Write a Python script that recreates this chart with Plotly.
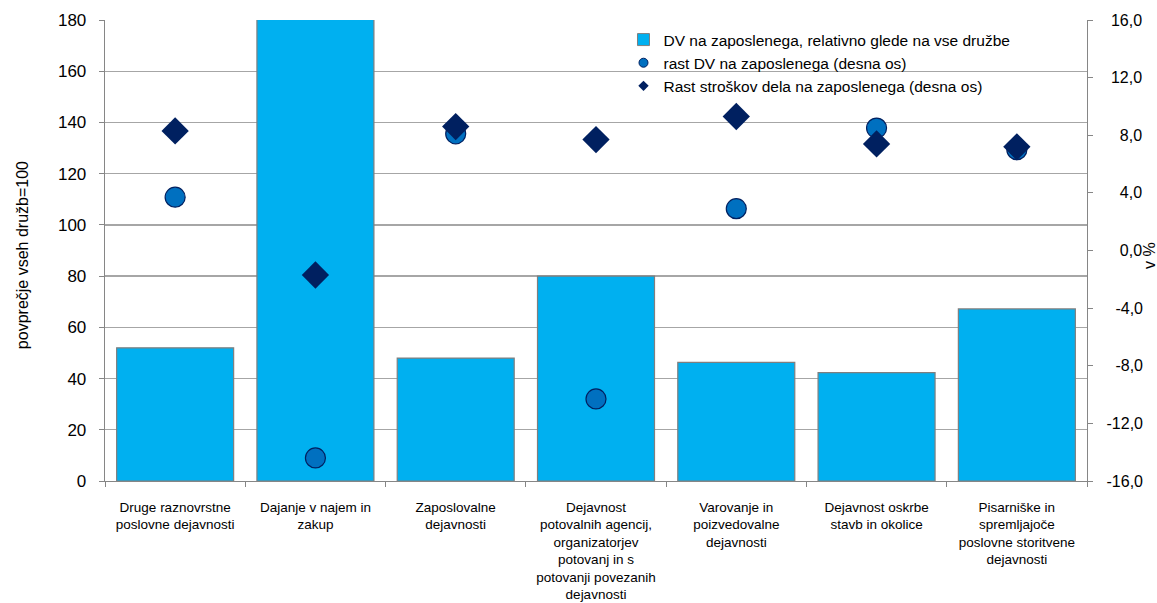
import plotly.graph_objects as go

categories = [
    "Druge raznovrstne<br>poslovne dejavnosti",
    "Dajanje v najem in<br>zakup",
    "Zaposlovalne<br>dejavnosti",
    "Dejavnost<br>potovalnih agencij,<br>organizatorjev<br>potovanj in s<br>potovanji povezanih<br>dejavnosti",
    "Varovanje in<br>poizvedovalne<br>dejavnosti",
    "Dejavnost oskrbe<br>stavb in okolice",
    "Pisarniške in<br>spremljajoče<br>poslovne storitvene<br>dejavnosti",
]
dv_relative = [52, 185, 48, 80, 46.3, 42.3, 67.2]
dv_growth = [3.7, -14.4, 8.1, -10.3, 2.9, 8.5, 7.0]
labor_cost_growth = [8.3, -1.7, 8.6, 7.7, 9.3, 7.4, 7.2]

left_ticks = list(range(0, 181, 20))
right_ticks = list(range(-16, 17, 4))


def right_label(v):
    s = f"{abs(v):.1f}".replace(".", ",")
    s = ("-" + s) if v < 0 else ("\u00a0" + s)
    if abs(v) < 10:
        s = "\u2007" + s
    return s


right_ticktext = [right_label(v) for v in right_ticks]

FONT = "Liberation Sans, Arial, sans-serif"
GRID = "#A6A6A6"
AX = "#868686"

fig = go.Figure()
fig.add_trace(go.Bar(
    x=categories, y=dv_relative, name="DV na zaposlenega, relativno glede na vse družbe",
    marker=dict(color="#00B0F0", line=dict(color="#7F7F7F", width=1.2)),
    showlegend=False, yaxis="y",
))
fig.add_trace(go.Scatter(
    x=categories, y=dv_growth, mode="markers", yaxis="y2", showlegend=False,
    marker=dict(symbol="circle", size=20, color="#0070C0", line=dict(color="#002060", width=1.2)),
))
fig.add_trace(go.Scatter(
    x=categories, y=labor_cost_growth, mode="markers", yaxis="y2", showlegend=False,
    marker=dict(symbol="diamond", size=21, color="#002060", line=dict(width=0)),
))
# legend entries
fig.add_trace(go.Bar(x=[None], y=[None], name="DV na zaposlenega, relativno glede na vse družbe",
                     marker=dict(color="#00B0F0", line=dict(color="#7F7F7F", width=1))))
fig.add_trace(go.Scatter(x=[None], y=[None], mode="markers", yaxis="y2",
                         name="rast DV na zaposlenega (desna os)",
                         marker=dict(symbol="circle", size=9, color="#0070C0", line=dict(color="#002060", width=1))))
fig.add_trace(go.Scatter(x=[None], y=[None], mode="markers", yaxis="y2",
                         name="Rast stroškov dela na zaposlenega (desna os)",
                         marker=dict(symbol="diamond", size=8, color="#002060")))

fig.update_layout(
    width=1157, height=603,
    margin=dict(l=105, r=70, t=20, b=122, autoexpand=False),
    paper_bgcolor="white", plot_bgcolor="white",
    font=dict(family=FONT, size=14, color="#000000"),
    separators=",.",
    bargap=0.166,
    showlegend=True,
    hovermode=False,
    legend=dict(x=0.528, y=0.9935, xanchor="left", yanchor="top",
                bgcolor="rgba(0,0,0,0)", font=dict(size=15.5), itemwidth=30,
                tracegroupgap=0, traceorder="normal"),
    xaxis=dict(
        showline=True, linecolor=AX, linewidth=1.3, automargin=False,
        ticks="outside", ticklen=5, tickcolor=AX, tickson="boundaries",
        tickfont=dict(size=13.5), showgrid=False, ticklabelstandoff=13,
    ),
    yaxis=dict(
        range=[0, 180], tickvals=left_ticks, showgrid=True, gridcolor=GRID, gridwidth=1.3,
        showline=True, linecolor=AX, linewidth=1.3, ticks="outside", ticklen=5, tickcolor=AX,
        tickfont=dict(size=17), zeroline=False, automargin=False, ticklabelstandoff=9,
    ),
    yaxis2=dict(
        range=[-16, 16], tickvals=right_ticks, ticktext=right_ticktext, overlaying="y", side="right",
        showgrid=False, zeroline=False, showline=True, linecolor=AX, linewidth=1.3,
        ticks="outside", ticklen=5, tickcolor=AX, tickfont=dict(size=16), automargin=False,
        ticklabelstandoff=10,
    ),
    annotations=[
        dict(text="povprečje vseh družb=100", xref="paper", yref="paper", x=-0.0845, y=0.49,
             xanchor="center", yanchor="middle", textangle=-90, showarrow=False,
             font=dict(size=16)),
        dict(text="v %", xref="paper", yref="paper", x=1.063, y=0.49,
             xanchor="center", yanchor="middle", textangle=-90, showarrow=False,
             font=dict(size=16)),
    ],
)

fig.write_html("out.html", config={"displayModeBar": False, "staticPlot": True},
               post_script="document.body.style.margin='0px';")
